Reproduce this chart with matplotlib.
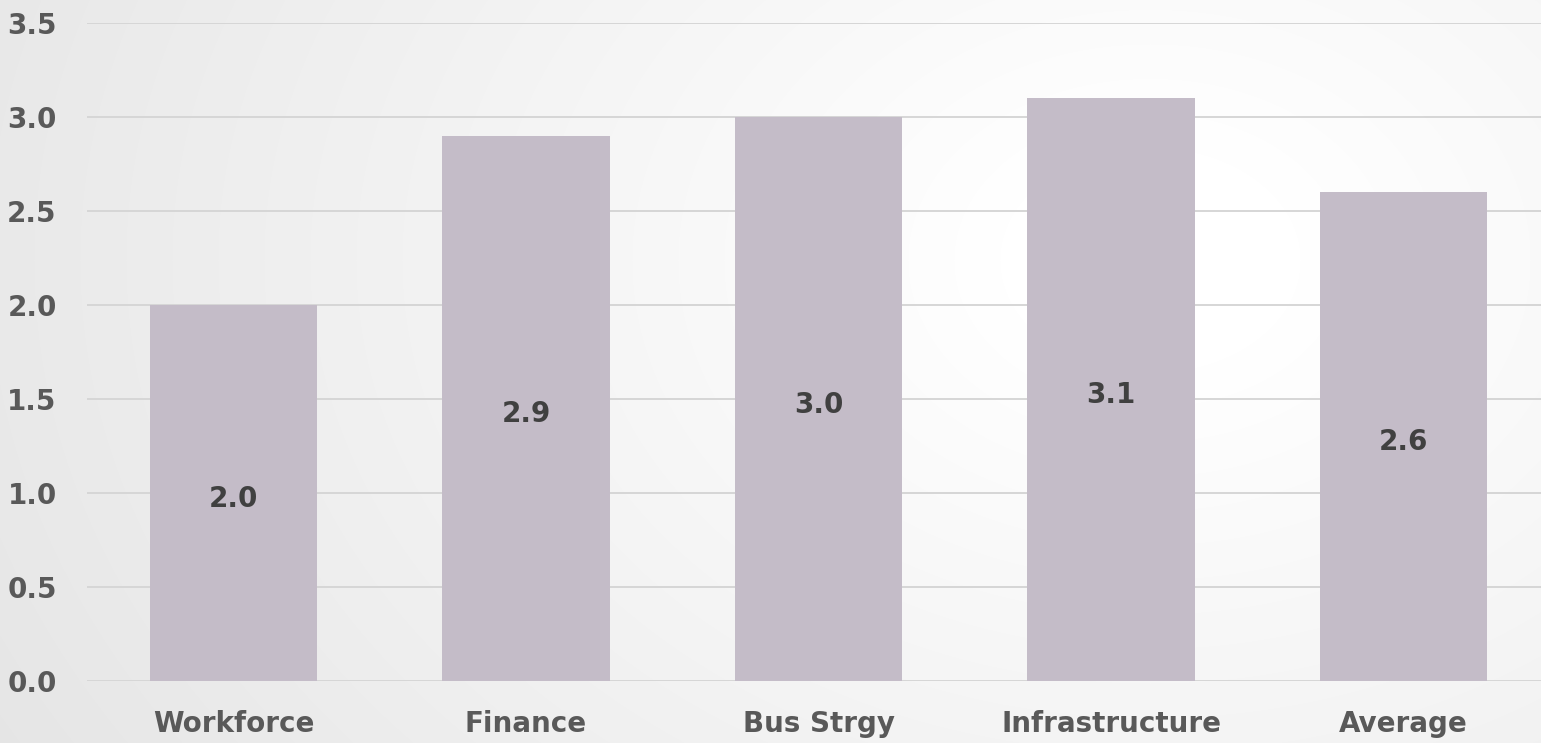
import numpy as np
import matplotlib
matplotlib.use("Agg")
import matplotlib.pyplot as plt
from matplotlib.transforms import offset_copy

categories = ["Workforce", "Finance", "Bus Strgy", "Infrastructure", "Average"]
scores = [2.0, 2.9, 3.0, 3.1, 2.6]
y_ticks = [0.0, 0.5, 1.0, 1.5, 2.0, 2.5, 3.0, 3.5]

W, H = 1541, 743
fig = plt.figure(figsize=(W / 100, H / 100), dpi=100)

# soft radial background: bright toward upper right, grey toward left
bg = fig.add_axes([0, 0, 1, 1], zorder=-10)
yy, xx = np.mgrid[0:H, 0:W]
d = np.sqrt(((xx - 1150) / 1.0) ** 2 + ((yy - 260) / 0.75) ** 2)
val = 255 - 25 * np.clip((d - 150) / 1150, 0, 1.2)
img = np.dstack([val, val, val]).astype(np.uint8)
bg.imshow(img, aspect="auto", extent=[0, W, H, 0])
bg.axis("off")

left = 87.25 / W
width = 1462.5 / W
bottom = (H - 681) / H
top = (H - 23) / H
ax = fig.add_axes([left, bottom, width, top - bottom])
ax.patch.set_alpha(0)

x = np.arange(len(categories))
ax.bar(x, scores, width=0.571, color="#c4bcc8", zorder=2)

# value labels centred in each bar, nudged slightly down
label_tf = offset_copy(ax.transData, fig=fig, x=0, y=-4, units="points")
for xi, v in zip(x, scores):
    ax.text(xi, v / 2, f"{v:.1f}", transform=label_tf, ha="center", va="center",
            fontsize=20, fontweight="bold", color="#404040", zorder=3)

ax.set_xlim(-0.5, len(categories) - 0.5)
ax.set_ylim(0, 3.5)
ax.set_yticks(y_ticks)
ax.set_yticklabels([f"{t:.1f}" for t in y_ticks])
ax.set_xticks(x)
ax.set_xticklabels(categories)
ax.yaxis.grid(True, color="#d6d6d6", linewidth=1.4, zorder=0)
ax.set_axisbelow(True)
for s in ax.spines.values():
    s.set_visible(False)
ax.tick_params(axis="both", length=0, labelsize=20, labelcolor="#595959")
ax.tick_params(axis="y", pad=22)
ax.tick_params(axis="x", pad=21)
for lab in ax.get_xticklabels() + ax.get_yticklabels():
    lab.set_fontweight("bold")

fig.savefig("out.png", dpi=100)
